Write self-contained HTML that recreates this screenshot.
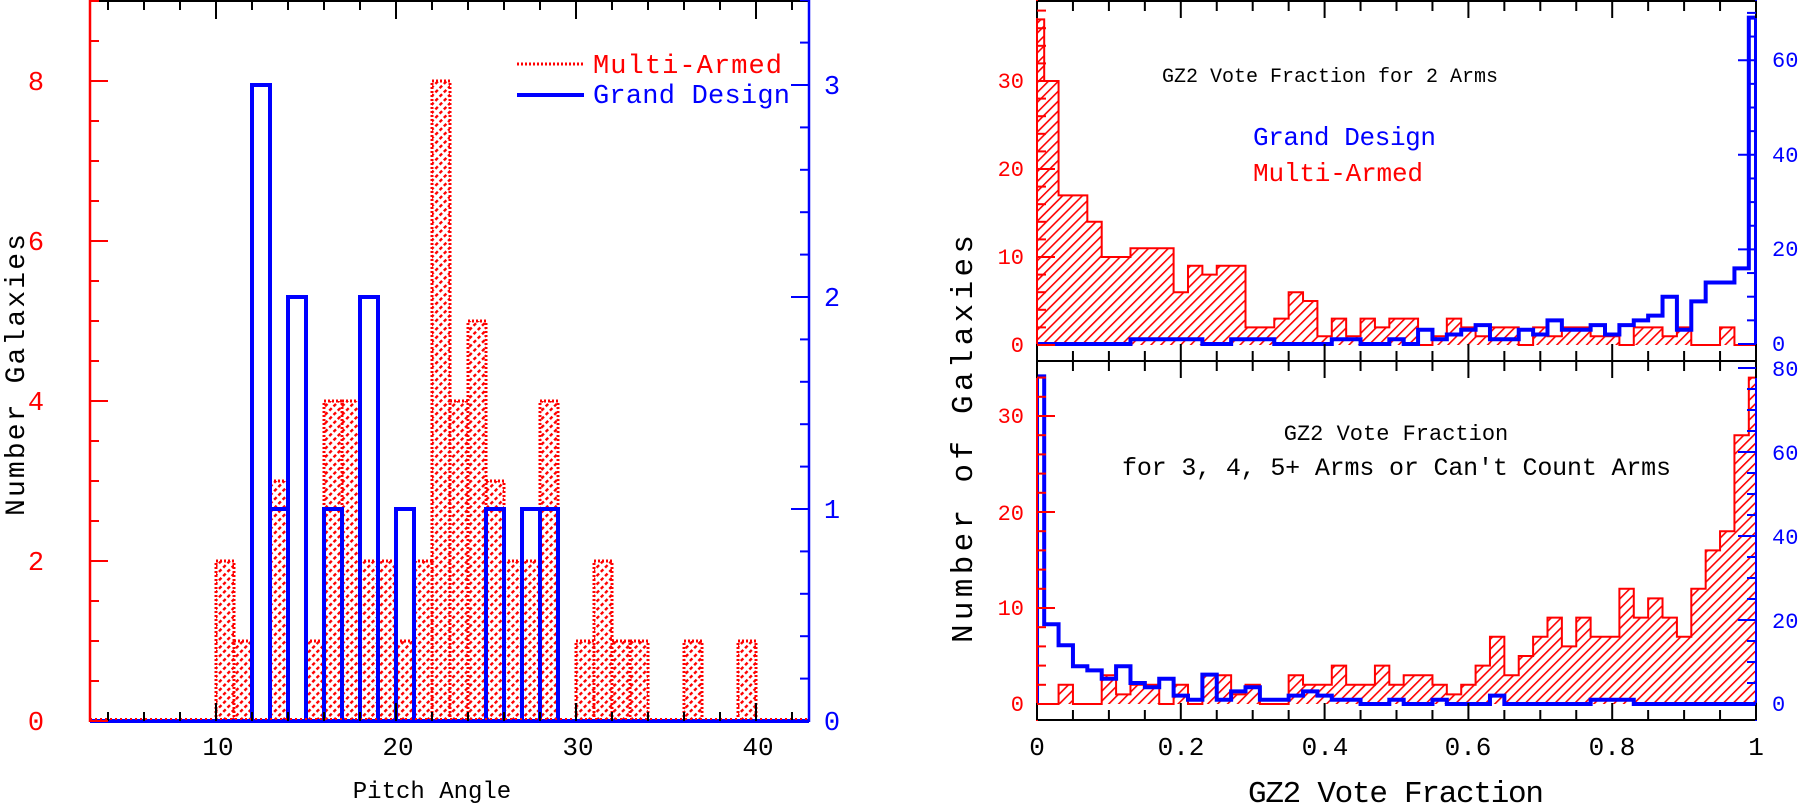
<!DOCTYPE html>
<html><head><meta charset="utf-8"><style>
html,body{margin:0;padding:0;background:#fff;}
svg{display:block;}
text{font-family:"Liberation Mono",monospace;}
</style></head><body>
<svg id="s" width="1802" height="807" viewBox="0 0 1802 807" xmlns="http://www.w3.org/2000/svg">
<defs>
<pattern id="dots" width="6" height="6" patternUnits="userSpaceOnUse" patternTransform="rotate(45)">
<rect x="0" y="0" width="2.4" height="3.5" fill="#f00"/>
</pattern>
<pattern id="hatch" width="7" height="7" patternUnits="userSpaceOnUse" patternTransform="rotate(45)">
<rect x="0" y="0" width="1.6" height="7" fill="#f00"/>
</pattern>
<clipPath id="ctop"><rect x="1037" y="1" width="719" height="359"/></clipPath>
<clipPath id="cbot"><rect x="1037" y="361" width="719" height="359"/></clipPath>
</defs>
<g id="g"></g>

<g font-size="27" fill="#f00" text-anchor="middle">
<text x="36" y="730">0</text><text x="36" y="570">2</text><text x="36" y="410">4</text><text x="36" y="250">6</text><text x="36" y="90">8</text>
</g>
<g font-size="27" fill="#00f" text-anchor="middle">
<text x="832" y="730">0</text><text x="832" y="518">1</text><text x="832" y="306">2</text><text x="832" y="94">3</text>
</g>
<g font-size="26" fill="#000" text-anchor="middle">
<text x="218" y="755">10</text><text x="398" y="755">20</text><text x="578" y="755">30</text><text x="758" y="755">40</text>
</g>
<text x="432" y="798" font-size="24" text-anchor="middle">Pitch Angle</text>
<text transform="translate(24,375) rotate(-90)" font-size="28" text-anchor="middle" textLength="282">Number Galaxies</text>
<text x="593" y="73" font-size="27" fill="#f00" textLength="189">Multi-Armed</text>
<text x="593" y="103" font-size="27" fill="#00f" textLength="197">Grand Design</text>
<line x1="517" y1="64" x2="584" y2="64" stroke="#f00" stroke-width="3" stroke-dasharray="2,2"/>
<line x1="517" y1="95" x2="584" y2="95" stroke="#00f" stroke-width="4"/>

<g font-size="22" fill="#f00" text-anchor="end">
<text x="1024" y="352">0</text><text x="1024" y="264">10</text><text x="1024" y="176">20</text><text x="1024" y="88">30</text>
<text x="1024" y="711">0</text><text x="1024" y="615">10</text><text x="1024" y="520">20</text><text x="1024" y="423">30</text>
</g>
<g font-size="22" fill="#00f">
<text x="1772" y="351">0</text><text x="1772" y="256">20</text><text x="1772" y="162">40</text><text x="1772" y="67">60</text>
<text x="1772" y="711">0</text><text x="1772" y="628">20</text><text x="1772" y="544">40</text><text x="1772" y="460">60</text><text x="1772" y="376">80</text>
</g>
<g font-size="26" fill="#000" text-anchor="middle">
<text x="1037" y="755">0</text><text x="1181" y="755">0.2</text><text x="1325" y="755">0.4</text><text x="1468" y="755">0.6</text><text x="1612" y="755">0.8</text><text x="1756" y="755">1</text>
</g>
<text x="1396" y="802" font-size="31" text-anchor="middle" textLength="296">GZ2 Vote Fraction</text>
<text transform="translate(972,439) rotate(-90)" font-size="31" text-anchor="middle" textLength="408">Number of Galaxies</text>
<text x="1330" y="82" font-size="20" text-anchor="middle">GZ2 Vote Fraction for 2 Arms</text>
<text x="1253" y="145" font-size="26" fill="#00f" textLength="183">Grand Design</text>
<text x="1253" y="181" font-size="26" fill="#f00" textLength="170">Multi-Armed</text>
<text x="1396" y="440" font-size="22" text-anchor="middle">GZ2 Vote Fraction</text>
<text x="1122" y="475" font-size="25" textLength="549">for 3, 4, 5+ Arms or Can't Count Arms</text>
</svg>
<script>
(function(){
var g=document.getElementById('g'),NS='http://www.w3.org/2000/svg';
function el(n,a){var e=document.createElementNS(NS,n);for(var k in a)e.setAttribute(k,a[k]);g.appendChild(e);return e;}
function line(x1,y1,x2,y2,c,w,extra){var a={x1:x1,y1:y1,x2:x2,y2:y2,stroke:c,'stroke-width':w||2};if(extra)for(var k in extra)a[k]=extra[k];return el('line',a);}
var X=function(v){return 90+(v-3)*18;},YL=function(c){return 721-c*80;},YB=function(c){return 721-c*212;};
var red=[[10,2],[11,1],[13,3],[15,1],[16,4],[17,4],[18,2],[19,2],[20,1],[21,2],[22,8],[23,4],[24,5],[25,3],[26,2],[27,2],[28,4],[30,1],[31,2],[32,1],[33,1],[36,1],[39,1]];
red.forEach(function(b){var x=X(b[0]),y=YL(b[1]);
 el('rect',{x:x,y:y,width:18,height:721-y,fill:'url(#dots)',stroke:'#f00','stroke-width':3,'stroke-dasharray':'2,2'});});
var blue=[[12,3],[13,1],[14,2],[16,1],[18,2],[20,1],[25,1],[27,1],[28,1]];
blue.forEach(function(b){var x=X(b[0]),y=YB(b[1]);
 el('rect',{x:x,y:y,width:18,height:721-y,fill:'none',stroke:'#00f','stroke-width':4});});
line(90,721,809,721,'#00f',4);
line(90,719,809,719,'#f00',2,{'stroke-dasharray':'2,3'});
line(90,1,809,1,'#000',2);
line(90,0,90,722,'#f00',2.5);
line(809,0,809,722,'#00f',2.5);
for(var v=4;v<=42;v+=2){var L=(v%10==0)?18:9;line(X(v),721,X(v),721-L,'#000',2);line(X(v),1,X(v),1+L,'#000',2);}
for(var c=0;c<=9;c+=0.5){var L=(c%2==0)?18:9;line(90,YL(c),90+L,YL(c),'#f00',2);}
for(var i=0;i<=17;i++){var c=i*0.2,L=(i%5==0)?18:9;line(809,YB(c),809-L,YB(c),'#00f',2);}
var RX=function(v){return 1037+v*719;};
function step(vals,Y,base,clip,opts){
 var d='M'+RX(0)+' '+base;
 for(var k=0;k<vals.length;k++){var a=Math.max(0,(k-0.5)*0.02),b=Math.min(1,(k+0.5)*0.02);
  d+=' L'+RX(a)+' '+Y(vals[k])+' L'+RX(b)+' '+Y(vals[k]);}
 d+=' L'+RX(1)+' '+base;
 var a={d:d,'clip-path':'url(#'+clip+')'};for(var q in opts)a[q]=opts[q];el('path',a);}
var topR=[37,30,17,17,14,10,10,11,11,11,6,9,8,9,9,2,2,3,6,5,1,3,1,3,2,3,3,0,1,3,2,1,2,2,0,2,1,2,2,1,1,0,2,2,1,2,0,0,2,0,0];
var topB=[0,0,0,0,0,0,0,1,1,1,1,1,0,0,1,1,1,0,0,0,0,1,1,0,0,1,0,3,1,2,3,4,1,1,3,2,5,3,3,4,2,4,5,6,10,3,9,13,13,16,69];
var botR=[0,0,2,0,0,3,1,2,2,0,2,0,3,3,1,2,0,0,3,2,2,4,2,2,4,2,3,3,2,1,2,4,7,3,5,7,9,6,9,7,7,12,9,11,9,7,12,16,18,28,34];
var botB=[78,19,14,9,8,6,9,5,4,6,2,1,7,1,3,4,1,1,2,3,2,1,1,0,0,1,0,0,1,0,0,0,2,0,0,0,0,0,0,1,1,1,0,0,0,0,0,0,0,0,0];
var YRt=function(c){return 345-c*8.8;},YBt=function(c){return 344-c*4.73;};
var YRb=function(c){return 704-c*9.6;},YBb=function(c){return 704-c*4.2;};
step(topR,YRt,345,'ctop',{fill:'url(#hatch)',stroke:'#f00','stroke-width':2});
step(topB,YBt,344,'ctop',{fill:'none',stroke:'#00f','stroke-width':4});
step(botR,YRb,704,'cbot',{fill:'url(#hatch)',stroke:'#f00','stroke-width':2});
step(botB,YBb,704,'cbot',{fill:'none',stroke:'#00f','stroke-width':4});
line(1037,1,1756,1,'#000',2);
line(1037,361,1756,361,'#000',2);
line(1037,720,1756,720,'#000',2);
line(1037,0,1037,721,'#f00',2);
line(1756,0,1756,721,'#00f',2);
for(var i=0;i<=20;i++){var x=RX(i*0.05),L=(i%4==0)?17:10;
 line(x,1,x,1+L,'#000',2);line(x,361-L,x,361+L,'#000',2);line(x,720,x,720-L,'#000',2);}
for(var c=0;c<=38;c+=2){var y=YRt(c);if(y<2)continue;var L=(c%10==0)?18:9;line(1037,y,1037+L,y,'#f00',2);}
for(var c=0;c<=36;c+=2){var y=YRb(c);if(y<362)continue;var L=(c%10==0)?18:9;line(1037,y,1037+L,y,'#f00',2);}
for(var c=0;c<=70;c+=5){var y=YBt(c);if(y<2)continue;var L=(c%20==0)?18:9;line(1756,y,1756-L,y,'#00f',2);}
for(var c=0;c<=80;c+=5){var y=YBb(c);if(y<362)continue;var L=(c%20==0)?18:9;line(1756,y,1756-L,y,'#00f',2);}
})();
</script>
</body></html>
